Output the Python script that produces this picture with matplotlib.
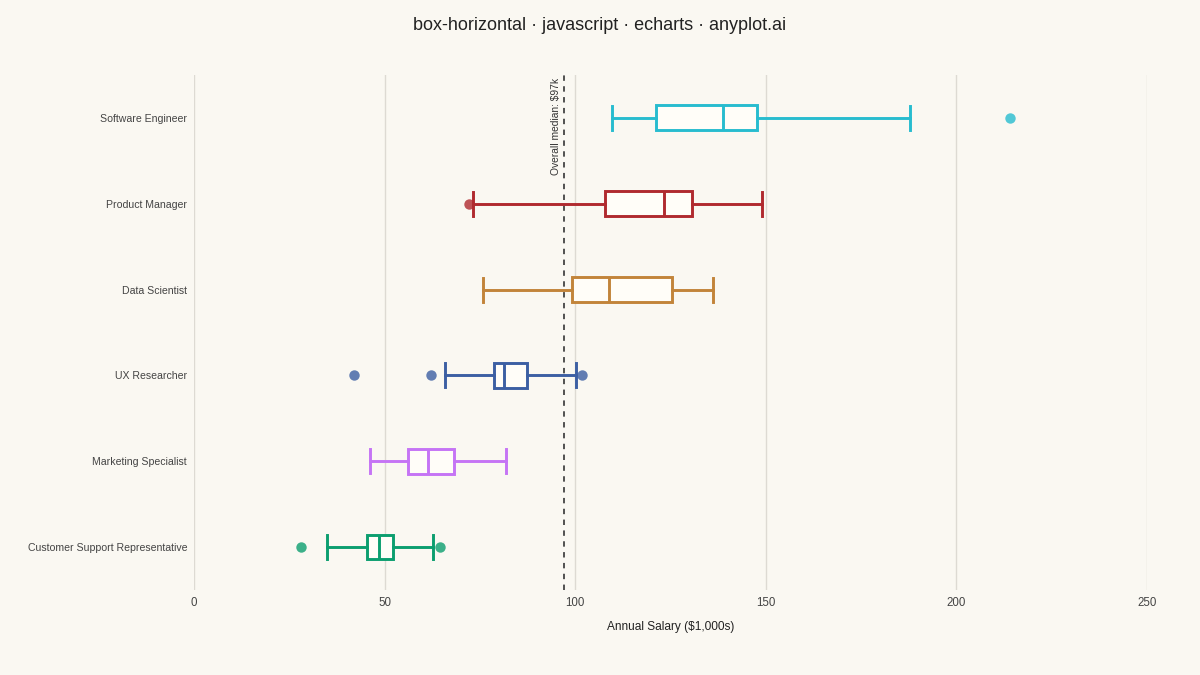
import matplotlib
matplotlib.use("Agg")
import matplotlib.pyplot as plt

plt.rcParams['font.family'] = ['Liberation Sans', 'DejaVu Sans']

# data (salary in $1,000s)
roles = ["Software Engineer", "Product Manager", "Data Scientist",
         "UX Researcher", "Marketing Specialist", "Customer Support Representative"]
whisk_lo = [109.7, 73.2, 75.8, 65.8, 46.2, 34.9]
q1 = [121.2, 107.8, 99.2, 78.7, 56.1, 45.4]
med = [138.8, 123.3, 108.9, 81.3, 61.4, 48.5]
q3 = [147.7, 130.6, 125.4, 87.4, 68.2, 52.2]
whisk_hi = [187.8, 149.0, 136.1, 100.2, 81.8, 62.7]
outliers = [[214.1], [72.1], [], [42.0, 62.2, 101.8], [], [28.1, 64.5]]
overall_median = 97

colors = ["#27bccf", "#b02a2f", "#c2843a", "#3c5fa3", "#c574f5", "#0b9e6f"]
bg = "#faf8f2"

fig = plt.figure(figsize=(12, 6.75), dpi=100, facecolor=bg)
ax = fig.add_axes([0.1617, 0.126, 0.7941, 0.763])
ax.set_facecolor(bg)

for i, role in enumerate(roles):
    st = [dict(label=role, whislo=whisk_lo[i], q1=q1[i], med=med[i],
               q3=q3[i], whishi=whisk_hi[i], fliers=outliers[i])]
    c = colors[i]
    ax.bxp(st, positions=[i], vert=False, widths=0.29, capwidths=0.28,
           patch_artist=True, showfliers=True, manage_ticks=False,
           boxprops=dict(facecolor="#fffdf8", edgecolor=c, linewidth=2.1),
           medianprops=dict(color=c, linewidth=2.1),
           whiskerprops=dict(color=c, linewidth=2.1),
           capprops=dict(color=c, linewidth=2.1),
           flierprops=dict(marker="o", markersize=7.5, markerfacecolor=c,
                           markeredgecolor="none", alpha=0.8),
           zorder=3)

ax.axvline(overall_median, color="#444444", linestyle=(0, (3, 3)), linewidth=1.3, zorder=2)
ax.text(overall_median - 0.6, -0.46, f"Overall median: ${overall_median}k",
        rotation=90, ha="right", va="top", fontsize=7.4, color="#333333")

ax.set_xlim(0, 250)
ax.set_ylim(5.5, -0.5)
ax.set_xticks([0, 50, 100, 150, 200, 250])
ax.set_yticks(range(len(roles)))
ax.set_yticklabels(roles)
ax.grid(axis="x", color="#dddad3", linewidth=1, zorder=0)
for s in ax.spines.values():
    s.set_visible(False)
ax.tick_params(axis="both", length=0, colors="#444444", labelsize=7.6)
ax.tick_params(axis="x", pad=5, labelsize=8.3)
ax.tick_params(axis="y", pad=5)
ax.set_xlabel("Annual Salary ($1,000s)", fontsize=8.6, color="#222222", labelpad=9)

fig.suptitle("box-horizontal · javascript · echarts · anyplot.ai", fontsize=13,
             color="#222222", y=0.975)

fig.savefig("out.png", dpi=100, facecolor=bg)
